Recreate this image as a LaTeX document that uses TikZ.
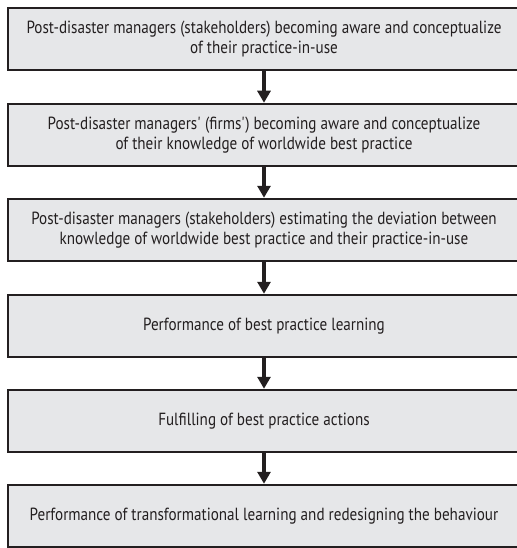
\documentclass[tikz,border=0pt]{standalone}
\usepackage{fontspec}
\setmainfont{PT Sans}[FakeStretch=0.86]
\usetikzlibrary{arrows.meta}
\definecolor{boxfill}{HTML}{E6E7E9}
\definecolor{boxline}{HTML}{231F20}
\begin{document}
\begin{tikzpicture}[x=1pt,y=-1pt,
  stage/.style={draw=boxline, fill=boxfill, line width=1.3pt, minimum width=512pt, minimum height=62pt,
     inner sep=0pt, align=center, text=boxline, font=\fontsize{17.6}{20.5}\selectfont},
  flow/.style={draw=boxline, line width=4.5pt, -{Triangle[width=13pt,length=12pt]}, shorten >=0.6pt}]
\useasboundingbox (0,0) rectangle (516,548);
\node[stage] (b1) at (264,39) {Post-disaster managers (stakeholders) becoming aware and conceptualize\\of their practice-in-use};
\node[stage] (b2) at (264,135) {Post-disaster managers\textquotesingle{} (firms\textquotesingle) becoming aware and conceptualize\\of their knowledge of worldwide best practice};
\node[stage] (b3) at (264,230) {Post-disaster managers (stakeholders) estimating the deviation between\\knowledge of worldwide best practice and their practice-in-use};
\node[stage] (b4) at (264,326) {Performance of best practice learning};
\node[stage] (b5) at (264,421) {Fulfilling of best practice actions};
\node[stage] (b6) at (264,516) {Performance of transformational learning and redesigning the behaviour};
\draw[flow] (b1.south) -- (b2.north);
\draw[flow] (b2.south) -- (b3.north);
\draw[flow] (b3.south) -- (b4.north);
\draw[flow] (b4.south) -- (b5.north);
\draw[flow] (b5.south) -- (b6.north);
\end{tikzpicture}
\end{document}
